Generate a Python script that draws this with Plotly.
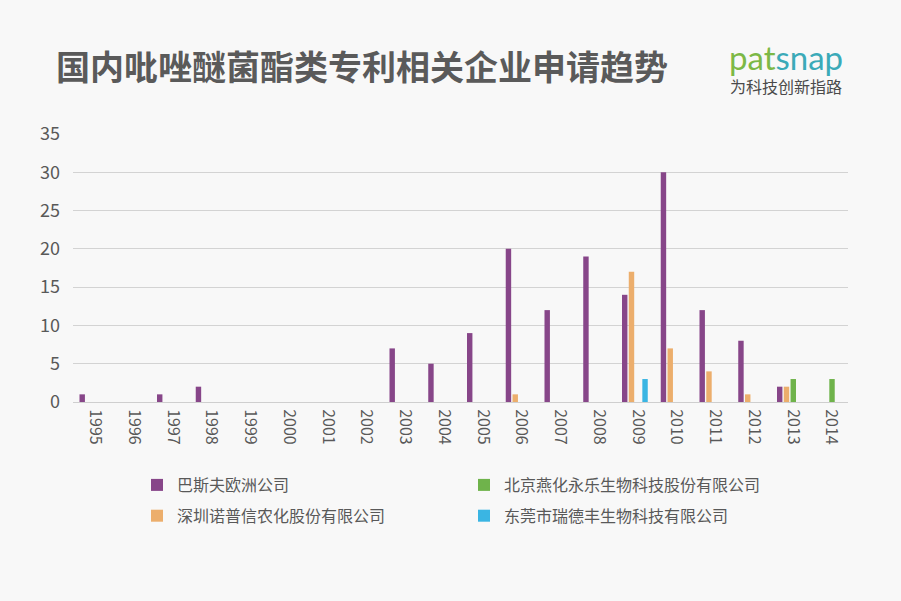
import plotly.graph_objects as go

years = [str(y) for y in range(1995, 2015)]
series_names = ["巴斯夫欧洲公司", "深圳诺普信农化股份有限公司", "北京燕化永乐生物科技股份有限公司", "东莞市瑞德丰生物科技有限公司"]
basf = [1, 0, 1, 2, 0, 0, 0, 0, 7, 5, 9, 20, 12, 19, 14, 30, 12, 8, 2, 0]
noposion = [0, 0, 0, 0, 0, 0, 0, 0, 0, 0, 0, 1, 0, 0, 17, 7, 4, 1, 2, 0]
yanhua = [0, 0, 0, 0, 0, 0, 0, 0, 0, 0, 0, 0, 0, 0, 0, 0, 0, 0, 3, 3]
ruidefeng = [0, 0, 0, 0, 0, 0, 0, 0, 0, 0, 0, 0, 0, 0, 3, 0, 0, 0, 0, 0]
y_ticks = [0, 5, 10, 15, 20, 25, 30, 35]

colors = ["#874689", "#ECAE6C", "#6FB34B", "#3AB5E3"]
legends = ["legend", "legend", "legend2", "legend2"]
values = [basf, noposion, yanhua, ruidefeng]

BG = "#F8F8F8"
TXT = "#595959"
FONT = "Noto Sans CJK SC"

# plot-area geometry (pixels) used to place text in paper coordinates
L, R, T, B = 73, 53, 134, 199
W, H = 901, 601
PW, PH = W - L - R, H - T - B


def px(x):
    return (x - L) / PW


def py(y):
    return (H - B - y) / PH


fig = go.Figure()
for i, (name, vals) in enumerate(zip(series_names, values)):
    fig.add_trace(go.Bar(
        x=years, y=vals, name=name,
        marker=dict(color=colors[i], line=dict(width=0)),
        legend=legends[i], legendgroup=f"g{i}",
    ))

fig.update_layout(
    width=W, height=H,
    paper_bgcolor=BG, plot_bgcolor=BG,
    margin=dict(l=L, r=R, t=T, b=B, autoexpand=False),
    barmode="group", bargap=0.3, bargroupgap=0.2,
    font=dict(family=FONT, color=TXT),
    showlegend=True,
    legend=dict(
        xref="container", yref="container", x=137 / W, y=1 - 468 / H,
        xanchor="left", yanchor="top", orientation="v",
        font=dict(size=16, color=TXT, family=FONT), bgcolor="rgba(0,0,0,0)",
        tracegroupgap=7,
    ),
    legend2=dict(
        xref="container", yref="container", x=464 / W, y=1 - 468 / H,
        xanchor="left", yanchor="top", orientation="v",
        font=dict(size=16, color=TXT, family=FONT), bgcolor="rgba(0,0,0,0)",
        tracegroupgap=7,
    ),
    xaxis=dict(
        type="category", tickangle=90, showgrid=False, ticks="",
        tickfont=dict(size=16, color=TXT, family=FONT),
        showline=True, linecolor="#CFCFCF", linewidth=1,
        ticklabelstandoff=3, ticklabelshift=3, automargin=False,
    ),
    yaxis=dict(
        range=[0, 35], tickvals=y_ticks, showgrid=True, gridcolor="#D3D3D3",
        gridwidth=1, zeroline=False, ticks="",
        tickfont=dict(size=18, color=TXT, family=FONT),
        ticklabelstandoff=12, automargin=False,
    ),
)

fig.add_annotation(
    xref="paper", yref="paper", x=px(54), y=py(65),
    text="<b>国内吡唑醚菌酯类专利相关企业申请趋势</b>",
    showarrow=False, xanchor="left", yanchor="middle",
    font=dict(size=34, color="#5A5A5A", family=FONT),
)
fig.add_annotation(
    xref="paper", yref="paper", x=px(727), y=py(57),
    text="<span style='color:#7CB846'>pat</span><span style='color:#3BAAB8'>snap</span>",
    showarrow=False, xanchor="left", yanchor="middle",
    font=dict(size=33, family="Lato"),
)
fig.add_annotation(
    xref="paper", yref="paper", x=px(728), y=py(86),
    text="为科技创新指路",
    showarrow=False, xanchor="left", yanchor="middle",
    font=dict(size=16, color="#4A4A4A", family=FONT),
)

fig.write_html("out.html", post_script="document.body.style.margin='0';",
               config={"displayModeBar": False})
